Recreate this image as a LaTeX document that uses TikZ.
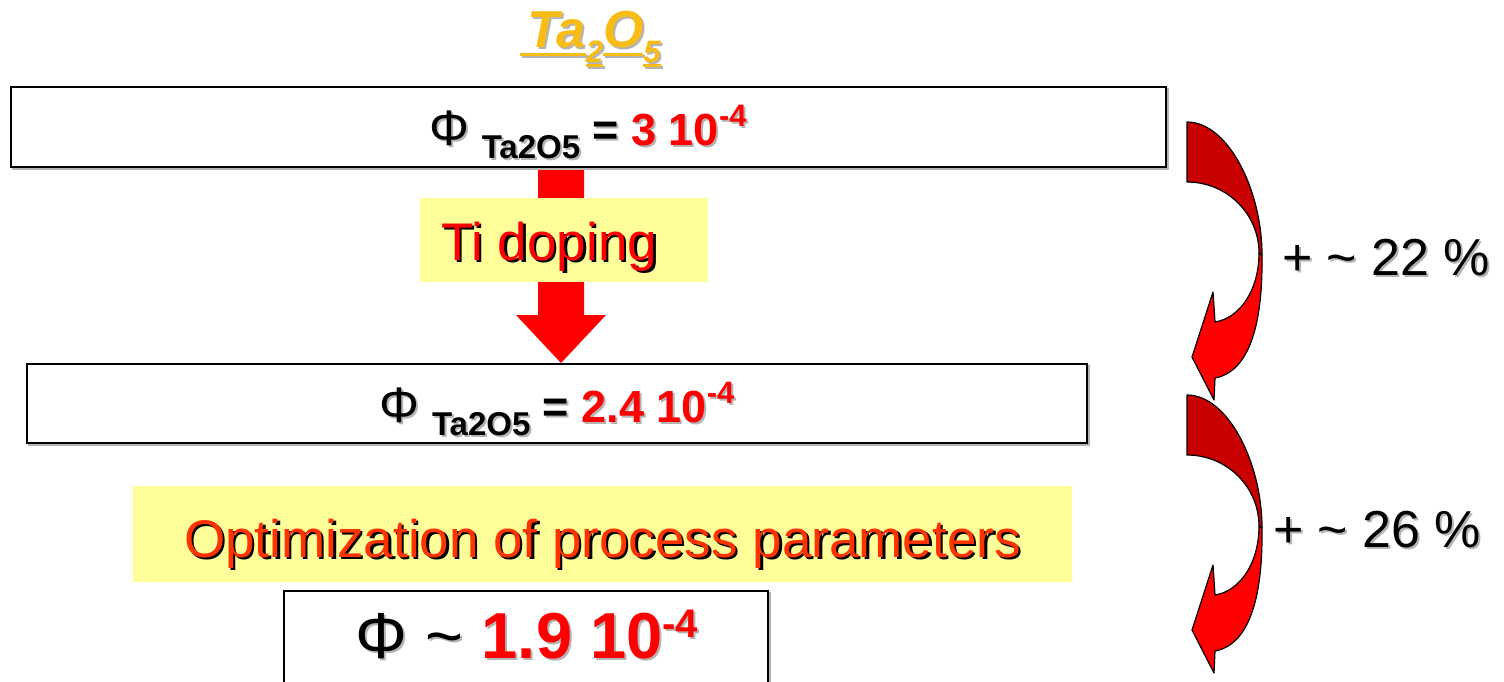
\documentclass[tikz,border=0pt]{standalone}
\usepackage{fontspec}
\setmainfont{Liberation Sans}
\definecolor{titlegold}{HTML}{F8BC14}
\definecolor{shgray}{HTML}{B4B4B4}
\definecolor{lyellow}{HTML}{FFFF99}
\definecolor{arrdark}{HTML}{C80000}
\definecolor{arrbright}{HTML}{FF0000}
\definecolor{orred}{HTML}{FF3300}
\newcommand\ulx[2]{{\setbox0\hbox{#2}\rlap{\rule[#1]{\wd0}{3pt}}\box0}}
\newcommand\titletext{\bfseries\itshape\fontsize{52}{60}\selectfont
  \ulx{-9pt}{\kern7pt Ta}\raisebox{-15pt}{\fontsize{31}{36}\selectfont\ulx{-5pt}{2}}\ulx{-9pt}{O}\raisebox{-15pt}{\fontsize{31}{36}\selectfont\ulx{-5pt}{5}}}
\newcommand\phitext[4]{{\color{#1}{\fontsize{50}{56}\selectfont Φ}\ \raisebox{-13pt}{\fontsize{33}{38}\selectfont\bfseries Ta2O5}\ \bfseries =\ }{\color{#2}\bfseries #3\raisebox{19pt}{\fontsize{31}{36}\selectfont -#4}}}
\newcommand\phifinal[2]{{\color{#1}Φ \char`~\ }{\color{#2}\bfseries 1.9 10\raisebox{21pt}{\fontsize{40}{46}\selectfont -4}}}
\tikzset{
  box/.style={draw=black, line width=1.5pt, fill=white, inner sep=0pt},
  boxsh/.style={draw=shgray, line width=1.5pt, inner sep=0pt},
  ybox/.style={fill=lyellow, inner sep=0pt},
  txt/.style={inner sep=0pt, outer sep=0pt, anchor=base},
  txtw/.style={inner sep=0pt, outer sep=0pt, anchor=base west},
  curvedark/.style={fill=arrdark, draw=black, line width=1.2pt, line join=round},
  curvebright/.style={fill=arrbright, draw=black, line width=1.2pt, line join=round},
  blockarrow/.style={fill=arrbright, draw=none},
}
\begin{document}
\begin{tikzpicture}[x=1pt,y=-1pt]
\useasboundingbox (0,0) rectangle (1504,681);
\clip (0,0) rectangle (1504,681);
\fill[white] (0,0) rectangle (1504,681);

% title
\node[txtw, text=shgray] (titlesh) at (522,49) {\titletext};
\node[txtw, text=titlegold] (title) at (520,47) {\titletext};

% vertical block arrow
\fill[blockarrow] (538,166) -- (584,166) -- (584,315) -- (606,315) -- (561,363) -- (516,315) -- (538,315) -- cycle;

% boxes
\node[boxsh, minimum width=1155pt, minimum height=80pt] (b1sh) at (590.5,129) {};
\node[box, minimum width=1155pt, minimum height=80pt] (b1) at (588.5,127) {};
\node[boxsh, minimum width=1060pt, minimum height=79pt] (b2sh) at (559,405.5) {};
\node[box, minimum width=1060pt, minimum height=79pt] (b2) at (557,403.5) {};
\node[boxsh, minimum width=484pt, minimum height=98pt] (b3sh) at (528,642) {};
\node[box, minimum width=484pt, minimum height=98pt] (b3) at (526,640) {};

% yellow boxes
\node[ybox, minimum width=288pt, minimum height=84pt] (y1) at (564,240) {};
\node[ybox, minimum width=939pt, minimum height=96pt] (y2) at (602.5,534) {};

% texts in boxes
\node[txt, font=\fontsize{45}{52}\selectfont] (t1sh) at (590,147) {\phitext{shgray}{shgray}{3 10}{4}};
\node[txt, font=\fontsize{45}{52}\selectfont] (t1) at (588,145) {\phitext{black}{arrbright}{3 10}{4}};
\node[txt, font=\fontsize{45}{52}\selectfont] (t2sh) at (559,424) {\phitext{shgray}{shgray}{2.4 10}{4}};
\node[txt, font=\fontsize{45}{52}\selectfont] (t2) at (557,422) {\phitext{black}{arrbright}{2.4 10}{4}};
\node[txt, font=\fontsize{65}{72}\selectfont] (t3sh) at (529,660) {\phifinal{shgray}{shgray}};
\node[txt, font=\fontsize{65}{72}\selectfont] (t3) at (527,658) {\phifinal{black}{arrbright}};

% yellow box texts
\node[txtw, font=\fontsize{53}{60}\selectfont, text=black] (tish) at (443.5,262.5) {Ti doping};
\node[txtw, font=\fontsize{53}{60}\selectfont, text=arrbright] (ti) at (441,260) {Ti doping};
\node[txt, font=\fontsize{53}{60}\selectfont, text=black] (optsh) at (605,559.5) {Optimization of process parameters};
\node[txt, font=\fontsize{53}{60}\selectfont, text=orred] (opt) at (602.5,557) {Optimization of process parameters};

% curved arrows
\foreach \dy in {273,0}{
  \begin{scope}[shift={(0,\dy)}]
    \draw[curvebright] (1259,253) .. controls (1259,290) and (1240,318) .. (1215,322)
      -- (1213,292) -- (1192,357) -- (1214,400) -- (1215,378)
      .. controls (1247,372) and (1263,330) .. (1262,255) -- cycle;
    \draw[curvedark] (1187,122) .. controls (1228,122) and (1262,190) .. (1262,255)
      -- (1259,253) .. controls (1259,214) and (1227,182) .. (1187,182) -- cycle;
  \end{scope}
}

% percentages
\node[txtw, font=\fontsize{52}{60}\selectfont, text=shgray] (p1sh) at (1284,277) {+ \char`~\ 22 \%};
\node[txtw, font=\fontsize{52}{60}\selectfont] (p1) at (1282,275) {+ \char`~\ 22 \%};
\node[txtw, font=\fontsize{52}{60}\selectfont, text=shgray] (p2sh) at (1275,549) {+ \char`~\ 26 \%};
\node[txtw, font=\fontsize{52}{60}\selectfont] (p2) at (1273,547) {+ \char`~\ 26 \%};
\end{tikzpicture}
\end{document}
